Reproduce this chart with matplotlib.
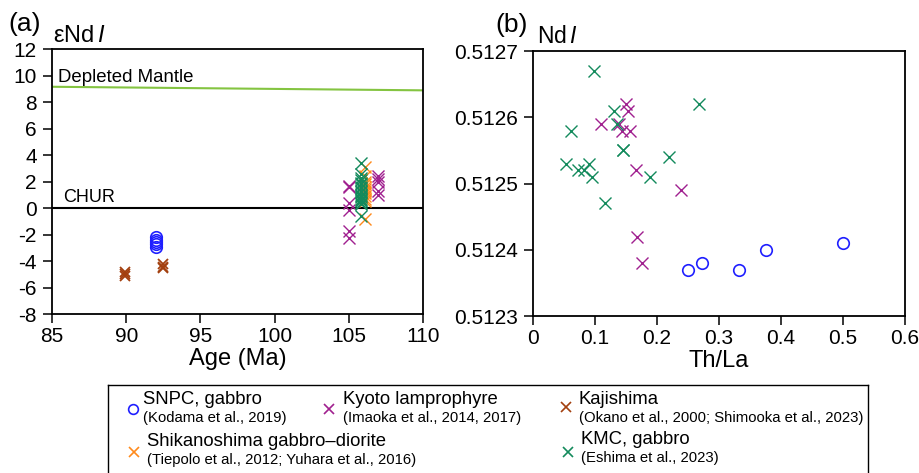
import matplotlib
matplotlib.use("Agg")
import matplotlib.pyplot as plt
import numpy as np

plt.rcParams['font.family'] = ['Liberation Sans', 'DejaVu Sans']
plt.rcParams['mathtext.fontset'] = 'custom'
plt.rcParams['mathtext.rm'] = 'Liberation Sans'
plt.rcParams['mathtext.it'] = 'Liberation Sans:italic'
plt.rcParams['axes.unicode_minus'] = False

# colours
c_snpc = '#1f1fff'
c_kyoto = '#a0208f'
c_kaji = '#a3400f'
c_shika = '#ff8a1c'
c_kmc = '#138a5c'
c_dm = '#84c441'

# ---- panel (a): eNd vs age ----
dm_age = [85, 110]
dm_end = [9.15, 8.88]

snpc_age = [92, 92, 92, 92, 92]
snpc_end = [-2.2, -2.4, -2.6, -2.75, -2.95]

kaji_age = [89.95, 89.95, 89.95, 92.45, 92.45, 92.45]
kaji_end = [-4.8, -5.0, -5.15, -4.25, -4.45, -4.55]

kyoto_age = [105, 105, 105, 105, 105, 105, 107, 107, 107, 107, 107]
kyoto_end = [1.65, 1.55, 0.35, -0.15, -1.7, -2.3, 2.4, 2.2, 2.0, 1.3, 0.95]

shika_age = [106.1] * 12
shika_end = [3.1, 2.4, 2.0, 1.8, 1.6, 1.4, 1.3, 1.1, 0.9, 0.7, 0.5, -0.8]

kmc_age = [105.8] * 19
kmc_end = [3.4, 2.6, 2.3, 2.1, 1.9, 1.8, 1.6, 1.5, 1.3, 1.2, 1.0, 0.9,
           0.8, 0.7, 0.6, 0.5, 0.4, 0.3, -0.6]

# ---- panel (b): Nd_I vs Th/La ----
snpc_thla = [0.25, 0.273, 0.333, 0.375, 0.5]
snpc_nd = [0.51237, 0.51238, 0.51237, 0.51240, 0.51241]

kyoto_thla = [0.110, 0.139, 0.143, 0.150, 0.154, 0.156, 0.166, 0.238, 0.168, 0.175]
kyoto_nd = [0.51259, 0.51259, 0.51258, 0.51262, 0.51261, 0.51258, 0.51252,
            0.51249, 0.51242, 0.51238]

kmc_thla = [0.053, 0.062, 0.073, 0.082, 0.091, 0.095, 0.099, 0.116, 0.131,
            0.135, 0.145, 0.145, 0.188, 0.219, 0.268]
kmc_nd = [0.51253, 0.51258, 0.51252, 0.51252, 0.51253, 0.51251, 0.51267,
          0.51247, 0.51261, 0.51259, 0.51255, 0.51255, 0.51251, 0.51254, 0.51262]

a_yticks = list(range(-8, 13, 2))
a_xticks = [85, 90, 95, 100, 105, 110]
b_yticks = [0.5123, 0.5124, 0.5125, 0.5126, 0.5127]
b_xticks = [0, 0.1, 0.2, 0.3, 0.4, 0.5, 0.6]
b_xlabels = ['0', '0.1', '0.2', '0.3', '0.4', '0.5', '0.6']

W, H = 919, 473
fig = plt.figure(figsize=(W / 100, H / 100), dpi=100)

def px_axes(l, t, r, b):
    return fig.add_axes([l / W, 1 - b / H, (r - l) / W, (b - t) / H])

ax1 = px_axes(52, 49, 423, 314)
ax2 = px_axes(533, 51, 905, 316)

xkw = dict(marker='x', ls='none', ms=8.5, mew=1.0)
okw = dict(marker='o', ls='none', ms=8.3, mew=1.2, mfc='none')

# panel a
ax1.plot(dm_age, dm_end, color=c_dm, lw=1.5)
ax1.axhline(0, color='black', lw=1.5)
ax1.plot(snpc_age, snpc_end, color=c_snpc, **okw)
ax1.plot(kaji_age, kaji_end, color=c_kaji, marker='x', ls='none', ms=7.5, mew=1.3)
ax1.plot(kyoto_age, kyoto_end, color=c_kyoto, **xkw)
ax1.plot(shika_age, shika_end, color=c_shika, **xkw)
ax1.plot(kmc_age, kmc_end, color=c_kmc, **xkw)
ax1.set_xlim(85, 110)
ax1.set_ylim(-8, 12)
ax1.set_xticks(a_xticks)
ax1.set_yticks(a_yticks)
ax1.set_xlabel('Age (Ma)', fontsize=17, labelpad=1)
ax1.text(85.4, 9.5, 'Depleted Mantle', fontsize=13.4, va='baseline')
ax1.text(85.75, 0.45, 'CHUR', fontsize=13, va='baseline')

# panel b
ax2.plot(snpc_thla, snpc_nd, color=c_snpc, **okw)
ax2.plot(kyoto_thla, kyoto_nd, color=c_kyoto, **xkw)
ax2.plot(kmc_thla, kmc_nd, color=c_kmc, **xkw)
ax2.set_xlim(0, 0.6)
ax2.set_ylim(0.5123, 0.5127)
ax2.set_xticks(b_xticks)
ax2.set_xticklabels(b_xlabels)
ax2.set_yticks(b_yticks)
ax2.set_yticklabels(['%.4f' % v for v in b_yticks])
ax2.set_xlabel('Th/La', fontsize=17, labelpad=1)

for ax in (ax1, ax2):
    for s in ax.spines.values():
        s.set_linewidth(1.3)
    ax.tick_params(direction='out', length=6.5, width=1.1, labelsize=15)
    ax.tick_params(axis='x', pad=3)
    ax.tick_params(axis='y', pad=4.5)

fig.text(8 / W, 1 - 31 / H, '(a)', fontsize=19, va='baseline')
fig.text(53 / W, 1 - 42 / H, r'εNd$\,\mathit{I}$', fontsize=17, va='baseline')
fig.text(495 / W, 1 - 32 / H, '(b)', fontsize=19, va='baseline')
fig.text(537 / W, 1 - 43 / H, r'Nd$\,\mathit{I}$', fontsize=16.5, va='baseline')

# legend box (bottom edge runs off the figure)
leg = fig.add_axes([108 / W, -0.02, (868 - 108) / W, (1 - 385 / H) + 0.02])
leg.set_xlim(108, 868)
leg.set_ylim(H + 0.02 * H, 385)
leg.set_xticks([])
leg.set_yticks([])
for s in leg.spines.values():
    s.set_linewidth(1.0)

entries = [
    ('o', c_snpc, 'SNPC, gabbro', '(Kodama et al., 2019)', 133, 409, 143, 399, 418),
    ('x', c_kyoto, 'Kyoto lamprophyre', '(Imaoka et al., 2014, 2017)', 329, 409, 343, 399, 418),
    ('x', c_kaji, 'Kajishima', '(Okano et al., 2000; Shimooka et al., 2023)', 566, 407, 579, 399, 418),
    ('x', c_shika, 'Shikanoshima gabbro\u2013diorite', '(Tiepolo et al., 2012; Yuhara et al., 2016)', 134, 452, 147, 441, 460),
    ('x', c_kmc, 'KMC, gabbro', '(Eshima et al., 2023)', 568, 452, 581, 440, 458),
]
for mk, col, name, ref, mx, my, tx, ty1, ty2 in entries:
    if mk == 'o':
        leg.plot([mx], [my], marker='o', ms=7, mfc='none', mec=col, mew=1.2)
    else:
        leg.plot([mx], [my], marker='x', ms=7, color=col, mew=1.2)
    leg.text(tx, ty1, name, fontsize=13.3, va='center')
    leg.text(tx, ty2, ref, fontsize=10.7, va='center')

fig.savefig('out.png', dpi=100)
